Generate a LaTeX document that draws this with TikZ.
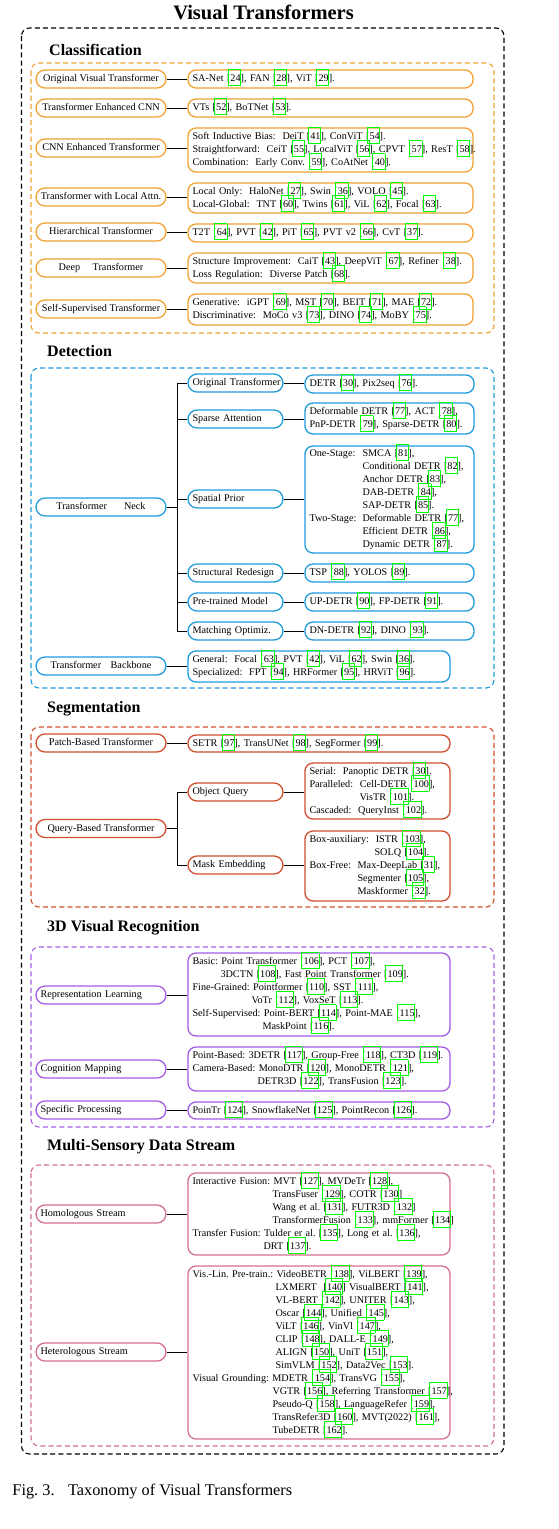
\documentclass[tikz,border=0pt]{standalone}
\usepackage{fontspec}
\setmainfont{Liberation Serif}
\definecolor{corange}{RGB}{240,162,50}
\definecolor{cblue}{RGB}{30,155,219}
\definecolor{cred}{RGB}{208,78,45}
\definecolor{cpurple}{RGB}{164,92,228}
\definecolor{cpink}{RGB}{212,110,144}
\definecolor{linkg}{RGB}{0,255,0}
\newsavebox\rfb
\newcommand{\rf}[1]{[\sbox\rfb{#1}\rlap{\kern-2.4pt\smash{\textcolor{linkg}{\setlength\fboxsep{0pt}\setlength\fboxrule{0.8pt}\fbox{\rule[-3.6pt]{0pt}{15.2pt}\hspace{\dimexpr\wd\rfb+1.2pt\relax}}}}}\usebox\rfb]}
\newcommand{\tbl}[1]{\begin{tabular}{@{}l@{}}#1\end{tabular}}
\newcommand{\nf}{\fontsize{10.2}{13}\selectfont}
\newcommand{\hg}[1]{\hspace*{#1pt}}
\newcommand{\rbox}[7]{%
 \pgfmathsetmacro\rbw{#4-#2}%
 \pgfmathsetmacro\rbh{#5-#3}%
 \pgfmathsetmacro\rtw{#4-#2-9}%
 \pgfmathsetmacro\rbcx{(#2+#4)/2}%
 \pgfmathsetmacro\rbcy{(#3+#5)/2}%
 \node[rb=#6, minimum width=\rbw pt, minimum height=\rbh pt, text width=\rtw pt] (#1) at (\rbcx,\rbcy) {\tbl{#7}};}
\frenchspacing
\begin{document}
\begin{tikzpicture}[x=1pt,y=-1pt,
  rb/.style={draw=#1, line width=1.3pt, rounded corners=8pt, fill=white, inner xsep=4.5pt, inner ysep=0pt, align=left, font=\nf},
  pill/.style={draw=#1, line width=1.3pt, rounded corners=9pt, fill=white, minimum width=130pt, minimum height=18pt, inner sep=0pt, font=\nf, text height=7pt, text depth=2pt},
  pillL/.style={pill=#1, text width=121pt, align=left, inner xsep=4.5pt},
  mid/.style={pill=#1, minimum width=95pt, text width=86pt, align=left, inner xsep=4.5pt},
  head/.style={anchor=base west, font=\fontsize{16}{19}\selectfont\bfseries, inner sep=0pt},
  cont/.style={draw=#1, line width=1.1pt, dash pattern=on 5pt off 3.2pt, rounded corners=8pt},
  conn/.style={draw=black, line width=0.9pt}]
\useasboundingbox (0,0) rectangle (559,1529);
\node[font=\fontsize{20.5}{24}\selectfont\bfseries, anchor=base, inner sep=0pt] (title) at (263.5,19) {Visual Transformers};
\draw[cont=black] (21.5,28) rectangle (504,1454);

% ---------------- Classification
\node[head] (hcls) at (49,55) {Classification};
\draw[cont=corange] (31,63) rectangle (494,333);
\node[pill=corange] (c1) at (101,79) {Original Visual Transformer};
\rbox{c1r}{188}{70}{473}{88}{corange}{SA-Net \rf{24}, FAN \rf{28}, ViT \rf{29}.}
\node[pill=corange] (c2) at (101,108) {Transformer Enhanced CNN};
\rbox{c2r}{188}{99}{473}{117}{corange}{VTs \rf{52}, BoTNet \rf{53}.}
\node[pill=corange] (c3) at (101,148) {CNN Enhanced Transformer};
\rbox{c3r}{188}{128}{473}{172}{corange}{Soft Inductive Bias:\ \ DeiT \rf{41}, ConViT \rf{54}.\\Straightforward:\ \ CeiT \rf{55}, LocalViT \rf{56}, CPVT \rf{57}, ResT \rf{58}.\\Combination:\ \ Early Conv. \rf{59}, CoAtNet \rf{40}.}
\node[pill=corange] (c4) at (101,197) {Transformer with Local Attn.};
\rbox{c4r}{188}{183}{473}{213}{corange}{Local Only:\ \ HaloNet \rf{27}, Swin \rf{36}, VOLO \rf{45}.\\Local-Global:\ \ TNT \rf{60}, Twins \rf{61}, ViL \rf{62}, Focal \rf{63}.}
\node[pill=corange] (c5) at (101,232) {Hierarchical Transformer};
\rbox{c5r}{188}{224}{473}{242}{corange}{T2T \rf{64}, PVT \rf{42}, PiT \rf{65}, PVT v2 \rf{66}, CvT \rf{37}.}
\node[pill=corange] (c6) at (101,268) {Deep\hspace{12.5pt}Transformer};
\rbox{c6r}{188}{253}{473}{283}{corange}{Structure Improvement:\ \ CaiT \rf{43}, DeepViT \rf{67}, Refiner \rf{38}.\\Loss Regulation:\ \ Diverse Patch \rf{68}.}
\node[pill=corange] (c7) at (101,309) {Self-Supervised Transformer};
\rbox{c7r}{188}{294}{473}{325}{corange}{Generative:\ \ iGPT \rf{69}, MST \rf{70}, BEIT \rf{71}, MAE \rf{72}.\\Discriminative:\ \ MoCo v3 \rf{73}, DINO \rf{74}, MoBY \rf{75}.}
\foreach \n in {c1,c2,c3,c4,c5,c6,c7}{\draw[conn] (\n.east) -- (\n r.west |- \n.east);}

% ---------------- Detection
\node[head] (hdet) at (47,356) {Detection};
\draw[cont=cblue] (31,368) rectangle (494,688);
\node[pill=cblue] (neck) at (101,507) {Transformer\hspace{17pt}Neck};
\coordinate (dtr) at (177,507);
\node[mid=cblue] (m1) at (235.5,383) {\mbox{Original Transformer}};
\node[mid=cblue] (m2) at (235.5,419) {\mbox{Sparse Attention}};
\node[mid=cblue] (m3) at (235.5,499) {\mbox{Spatial Prior}};
\node[mid=cblue] (m4) at (235.5,573) {\mbox{Structural Redesign}};
\node[mid=cblue] (m5) at (235.5,602) {\mbox{Pre-trained Model}};
\node[mid=cblue] (m6) at (235.5,631) {\mbox{Matching Optimiz.}};
\rbox{m1r}{305}{375}{474}{393}{cblue}{DETR \rf{30}, Pix2seq \rf{76}.}
\rbox{m2r}{305}{403}{474}{434}{cblue}{Deformable DETR \rf{77}, ACT \rf{78},\\PnP-DETR \rf{79}, Sparse-DETR \rf{80}.}
\rbox{m3r}{305}{446}{474}{553}{cblue}{\makebox[53pt][l]{One-Stage:}SMCA \rf{81},\\\hg{53}Conditional DETR \rf{82},\\\hg{53}Anchor DETR \rf{83},\\\hg{53}DAB-DETR \rf{84},\\\hg{53}SAP-DETR \rf{85}.\\\makebox[53pt][l]{Two-Stage:}Deformable DETR \rf{77},\\\hg{53}Efficient DETR \rf{86},\\\hg{53}Dynamic DETR \rf{87}.}
\rbox{m4r}{305}{564}{474}{582}{cblue}{TSP \rf{88}, YOLOS \rf{89}.}
\rbox{m5r}{305}{593}{474}{611}{cblue}{UP-DETR \rf{90}, FP-DETR \rf{91}.}
\rbox{m6r}{305}{622}{474}{640}{cblue}{DN-DETR \rf{92}, DINO \rf{93}.}
\draw[conn] (neck.east) -- (dtr);
\draw[conn] (dtr |- m1.west) -- (dtr |- m6.west);
\foreach \n in {m1,m2,m3,m4,m5,m6}{\draw[conn] (dtr |- \n.west) -- (\n.west); \draw[conn] (\n.east) -- (\n r.west |- \n.east);}
\node[pill=cblue] (bb) at (101,666) {Transformer\hspace{9.5pt}Backbone};
\rbox{bbr}{188}{651}{450}{682}{cblue}{General:\ \ Focal \rf{63}, PVT \rf{42}, ViL \rf{62}, Swin \rf{36}.\\Specialized:\ \ FPT \rf{94}, HRFormer \rf{95}, HRViT \rf{96}.}
\draw[conn] (bb.east) -- (bbr.west |- bb.east);

% ---------------- Segmentation
\node[head] (hseg) at (47,712) {Segmentation};
\draw[cont=cred] (31,727) rectangle (494,907);
\node[pill=cred] (s1) at (101,743) {Patch-Based Transformer};
\rbox{s1r}{188}{735}{450}{752}{cred}{SETR \rf{97}, TransUNet \rf{98}, SegFormer \rf{99}.}
\draw[conn] (s1.east) -- (s1r.west |- s1.east);
\node[pill=cred] (s2) at (101,828.5) {Query-Based Transformer};
\coordinate (str) at (177,828.5);
\node[mid=cred] (q1) at (235.5,792) {\mbox{Object Query}};
\node[mid=cred] (q2) at (235.5,865) {\mbox{Mask Embedding}};
\rbox{q1r}{305}{763}{450}{819}{cred}{Serial:\ \ Panoptic DETR \rf{30}.\\Paralleled:\ \ Cell-DETR \rf{100},\\\hg{50}VisTR \rf{101}.\\Cascaded:\ \ QueryInst \rf{102}.}
\rbox{q2r}{305}{831}{450}{901}{cred}{Box-auxiliary:\ \ ISTR \rf{103},\\\hg{65}SOLQ \rf{104}.\\Box-Free:\ \ Max-DeepLab \rf{31},\\\hg{48}Segmenter \rf{105},\\\hg{48}Maskformer \rf{32}.}
\draw[conn] (s2.east) -- (str);
\draw[conn] (str |- q1.west) -- (str |- q2.west);
\foreach \n in {q1,q2}{\draw[conn] (str |- \n.west) -- (\n.west); \draw[conn] (\n.east) -- (\n r.west |- \n.east);}

% ---------------- 3D
\node[head] (h3d) at (47,931) {3D Visual Recognition};
\draw[cont=cpurple] (31,947) rectangle (494,1127);
\node[pillL=cpurple] (t1) at (101,995) {Representation Learning};
\rbox{t1r}{188}{953}{450}{1036}{cpurple}{Basic: Point Transformer \rf{106}, PCT \rf{107},\\\hg{28}3DCTN \rf{108}, Fast Point Transformer \rf{109}.\\Fine-Grained: Pointformer \rf{110}, SST \rf{111},\\\hg{59}VoTr \rf{112}, VoxSeT \rf{113}.\\Self-Supervised: Point-BERT \rf{114}, Point-MAE \rf{115},\\\hg{70}MaskPoint \rf{116}.}
\node[pillL=cpurple] (t2) at (101,1069) {Cognition Mapping};
\rbox{t2r}{188}{1047}{450}{1091}{cpurple}{Point-Based: 3DETR \rf{117}, Group-Free \rf{118}, CT3D \rf{119}.\\Camera-Based: MonoDTR \rf{120}, MonoDETR \rf{121},\\\hg{65}DETR3D \rf{122}, TransFusion \rf{123}.}
\node[pillL=cpurple] (t3) at (101,1110) {Specific Processing};
\rbox{t3r}{188}{1102}{450}{1119}{cpurple}{PoinTr \rf{124}, SnowflakeNet \rf{125}, PointRecon \rf{126}.}
\foreach \n in {t1,t2,t3}{\draw[conn] (\n.east) -- (\n r.west |- \n.east);}

% ---------------- Multi-Sensory
\node[head] (hms) at (47,1150) {Multi-Sensory Data Stream};
\draw[cont=cpink] (31,1165) rectangle (494,1446);
\node[pillL=cpink] (u1) at (101,1214) {Homologous Stream};
\rbox{u1r}{188}{1173}{450}{1255}{cpink}{Interactive Fusion: MVT \rf{127}, MVDeTr \rf{128},\\\hg{80}TransFuser \rf{129}, COTR \rf{130}\\\hg{80}Wang et al. \rf{131}, FUTR3D \rf{132}\\\hg{80}TransformerFusion \rf{133}, mmFormer \rf{134}\\Transfer Fusion: Tulder er al. \rf{135}, Long et al. \rf{136},\\\hg{71}DRT \rf{137}.}
\node[pillL=cpink] (u2) at (101,1352) {Heterologous Stream};
\rbox{u2r}{188}{1266}{450}{1439}{cpink}{Vis.-Lin. Pre-train.: VideoBETR \rf{138}, ViLBERT \rf{139},\\\hg{83}LXMERT\ \ \rf{140} VisualBERT \rf{141},\\\hg{83}VL-BERT \rf{142}, UNITER \rf{143},\\\hg{83}Oscar \rf{144}, Unified \rf{145},\\\hg{83}ViLT \rf{146}, VinVl \rf{147},\\\hg{83}CLIP \rf{148}, DALL-E \rf{149},\\\hg{83}ALIGN \rf{150}, UniT \rf{151},\\\hg{83}SimVLM \rf{152}, Data2Vec \rf{153}.\\Visual Grounding: MDETR \rf{154}, TransVG \rf{155},\\\hg{80}VGTR \rf{156}, Referring Transformer \rf{157},\\\hg{80}Pseudo-Q \rf{158}, LanguageRefer \rf{159},\\\hg{80}TransRefer3D \rf{160}, MVT(2022) \rf{161},\\\hg{80}TubeDETR \rf{162}.}
\foreach \n in {u1,u2}{\draw[conn] (\n.east) -- (\n r.west |- \n.east);}

% caption
\node[anchor=base west, inner sep=0pt, font=\fontsize{16.3}{19}\selectfont] (cap) at (12.3,1495) {Fig. 3.\hspace{13.5pt}Taxonomy of Visual Transformers};
\end{tikzpicture}
\end{document}
